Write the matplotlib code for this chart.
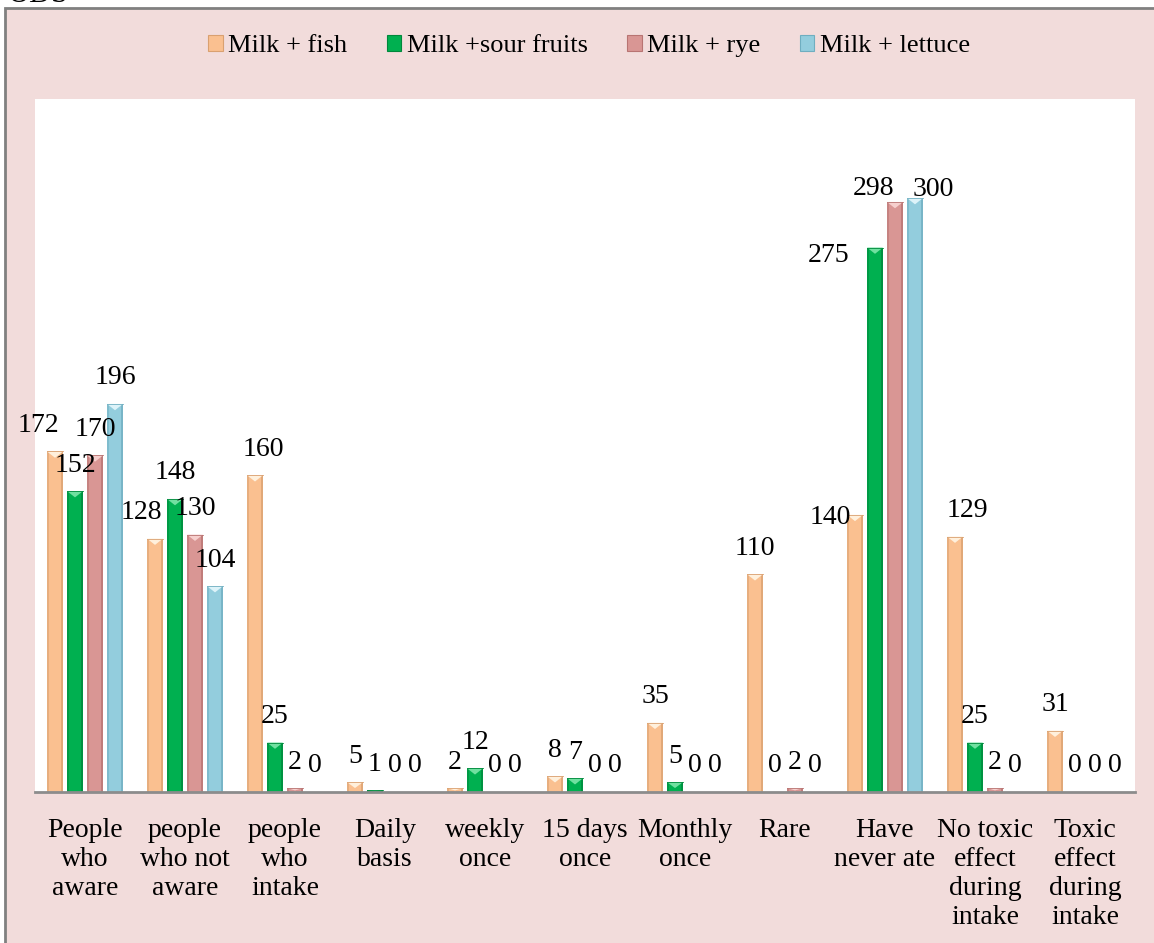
import matplotlib
matplotlib.use("Agg")
import matplotlib.pyplot as plt
import matplotlib.patches as mpatches
import numpy as np

plt.rcParams["font.family"] = ["Liberation Serif", "DejaVu Serif"]

categories = [
    "People\nwho\naware", "people\nwho not\naware", "people\nwho\nintake",
    "Daily\nbasis", "weekly\nonce", "15 days\nonce", "Monthly\nonce", "Rare",
    "Have\nnever ate", "No toxic\neffect\nduring\nintake",
    "Toxic\neffect\nduring\nintake",
]
series_names = ["Milk + fish", "Milk +sour fruits", "Milk + rye", "Milk + lettuce"]
milk_fish = [172, 128, 160, 5, 2, 8, 35, 110, 140, 129, 31]
milk_sour_fruits = [152, 148, 25, 1, 12, 7, 5, 0, 275, 25, 0]
milk_rye = [170, 130, 2, 0, 0, 0, 0, 2, 298, 2, 0]
milk_lettuce = [196, 104, 0, 0, 0, 0, 0, 0, 300, 0, 0]
series_values = [milk_fish, milk_sour_fruits, milk_rye, milk_lettuce]

# face, darker side, light bevel
COLORS = ["#FAC090", "#00B050", "#D99694", "#93CDDD"]
SIDES = ["#D9A070", "#00883C", "#B87472", "#6FAEC0"]
BEVEL = ["#FFF0DC", "#70E0A0", "#F6CFCD", "#DDF3F9"]

PINK_BG = "#F2DCDB"
W, H, DPI = 1154, 943, 100
FS = 20

# label nudges in pixels (dx, dy above bar top) where labels were moved by hand
LABEL_OFFSETS = {
    (0, 0): (-17, 26), (0, 1): (-14, 26), (0, 2): (8, 26), (0, 9): (12, 26),
    (0, 8): (-25, -3), (1, 8): (-46, -8), (2, 8): (-22, 13), (3, 8): (18, 9),
}

fig = plt.figure(figsize=(W / DPI, H / DPI), dpi=DPI)
fig.patch.set_facecolor("white")

# outer chart frame
frame = mpatches.Rectangle(
    (5 / W, -0.01), 1.02, 1 - 8 / H + 0.01, transform=fig.transFigure,
    facecolor=PINK_BG, edgecolor="#808080", linewidth=2, zorder=-5,
)
fig.patches.append(frame)
fig.text(8 / W, 1 - 2 / H, "ODS", fontsize=22, va="baseline", ha="left")

ax = fig.add_axes([35 / W, (H - 792) / H, 1100 / W, (792 - 99) / H])
ax.set_zorder(1)
ax.set_facecolor("white")

x = np.arange(len(categories))
step, width = 0.2, 0.16
side_w = 0.022

for s, (vals, name) in enumerate(zip(series_values, series_names)):
    pos = x + (s - 1.5) * step
    ax.bar(pos, vals, width=width, color=COLORS[s], edgecolor="none",
           zorder=3, label=name)
    for px, v in zip(pos, vals):
        if v <= 0:
            continue
        left = px - width / 2
        right = px + width / 2
        # darker side edges
        ax.bar(left + side_w / 2, v, width=side_w, color=SIDES[s],
               alpha=0.55, zorder=4, edgecolor="none")
        ax.bar(right - side_w / 2, v, width=side_w, color=SIDES[s],
               alpha=0.75, zorder=4, edgecolor="none")
        # light bevel wedge at the top
        th = min(3.2, v * 0.6)
        ax.fill([left, right, px], [v, v, v - th], color=BEVEL[s],
                zorder=5, linewidth=0)
        ax.plot([left, right], [v, v], color=SIDES[s], lw=0.6, zorder=5)

    for g, (px, v) in enumerate(zip(pos, vals)):
        dx, dy = LABEL_OFFSETS.get((s, g), (0, 26))
        ax.annotate(str(v), (px, v), xytext=(dx, dy),
                    textcoords="offset pixels", ha="center", va="center",
                    fontsize=FS, color="black", zorder=6)

ax.set_xlim(-0.5, len(categories) - 0.5)
ax.set_ylim(0, 350)
ax.set_yticks([])
ax.set_xticks(x)
ax.set_xticklabels(categories, fontsize=FS, linespacing=1.2, va="top")
ax.tick_params(axis="x", length=0, pad=19)
for side in ["left", "right", "top"]:
    ax.spines[side].set_visible(False)
ax.spines["bottom"].set_color("#8C8C8C")
ax.spines["bottom"].set_linewidth(2)
ax.spines["bottom"].set_zorder(7)

handles = [
    mpatches.Rectangle((0, 0), 1, 1, facecolor=COLORS[i], edgecolor=SIDES[i],
                       linewidth=0.8)
    for i in range(4)
]
fig.legend(
    handles, series_names, loc="center", bbox_to_anchor=(589 / W, 1 - 46 / H),
    ncol=4, frameon=False, fontsize=19, handlelength=0.55, handleheight=0.55,
    handletextpad=0.2, columnspacing=1.5,
)

fig.savefig("out.png", dpi=DPI, facecolor=fig.get_facecolor())
